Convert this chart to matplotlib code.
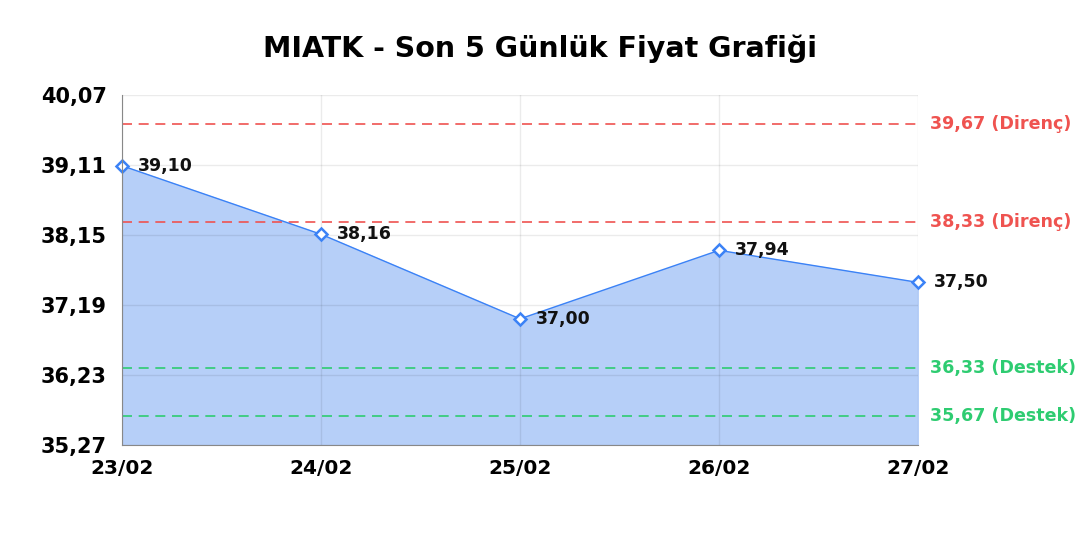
import numpy as np
import matplotlib.pyplot as plt

# Veriler
tarihler = ["23/02", "24/02", "25/02", "26/02", "27/02"]
fiyatlar = [39.10, 38.16, 37.00, 37.94, 37.50]
direncler = [39.67, 38.33]
destekler = [36.33, 35.67]
y_ticks = [35.27, 36.23, 37.19, 38.15, 39.11, 40.07]

mavi = "#3b82f6"
kirmizi = "#ef5350"
yesil = "#2ecc71"

def virgul(v):
    return f"{v:.2f}".replace(".", ",")

fig = plt.figure(figsize=(10.8, 5.4), dpi=100)
ax = fig.add_axes([0.113, 0.176, 0.737, 0.648])

x = np.arange(len(tarihler))
ax.fill_between(x, fiyatlar, y_ticks[0], color="#b6cff8", zorder=1)
ax.plot(x, fiyatlar, color=mavi, lw=1.0, zorder=3)
ax.plot(x, fiyatlar, ls="none", marker="D", ms=6, mfc="white", mec=mavi, mew=1.8,
        zorder=4, clip_on=False)

for xi, yi in zip(x, fiyatlar):
    ax.annotate(virgul(yi), (xi, yi), xytext=(11.5, 0), textcoords="offset points",
                ha="left", va="center", fontsize=12.5, fontweight="bold", color="#111111",
                zorder=5)

for d in direncler:
    ax.axhline(d, color=kirmizi, ls=(0, (6, 4)), lw=1.2, zorder=2)
    ax.annotate(f"{virgul(d)} (Direnç)", (1, d), xycoords=("axes fraction", "data"),
                xytext=(9, 0), textcoords="offset points", ha="left", va="center",
                fontsize=12.6, fontweight="bold", color=kirmizi, annotation_clip=False)
for s in destekler:
    ax.axhline(s, color=yesil, ls=(0, (6, 4)), lw=1.2, zorder=2)
    ax.annotate(f"{virgul(s)} (Destek)", (1, s), xycoords=("axes fraction", "data"),
                xytext=(9, 0), textcoords="offset points", ha="left", va="center",
                fontsize=12.6, fontweight="bold", color=yesil, annotation_clip=False)

ax.set_xlim(0, len(tarihler) - 1)
ax.set_ylim(y_ticks[0], y_ticks[-1])
ax.set_xticks(x)
ax.set_xticklabels(tarihler, fontsize=14.5, fontweight="bold")
ax.set_yticks(y_ticks)
ax.set_yticklabels([virgul(v) for v in y_ticks], fontsize=15, fontweight="bold")
ax.tick_params(axis="y", length=0, pad=11)
ax.tick_params(axis="x", length=0, pad=10)
ax.grid(True, color="black", alpha=0.08, lw=1, zorder=1.5)
for k in ["top", "right"]:
    ax.spines[k].set_visible(False)
for k in ["left", "bottom"]:
    ax.spines[k].set_color("#888888")
    ax.spines[k].set_zorder(6)

fig.suptitle("MIATK - Son 5 Günlük Fiyat Grafiği", fontsize=20.5, fontweight="bold",
             y=0.937)

fig.savefig("out.png", dpi=100)
